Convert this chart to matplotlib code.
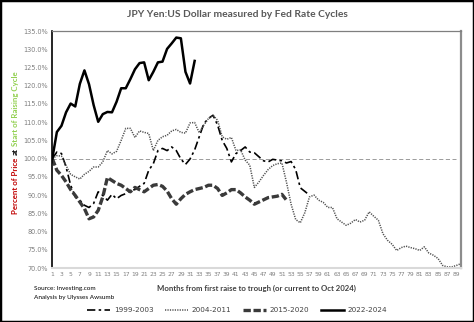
from matplotlib import pyplot as plt
from matplotlib.patches import Rectangle
from matplotlib.ticker import FuncFormatter
import numpy as np

# percent of starting JPY/USD price, one value per month of each cycle
cycle_9903 = [100, 101.8, 101.4, 97.7, 92.7, 89.5, 88.6, 87.2, 86.6, 87.7,
              90.9, 89.9, 88.6, 90.2, 89.0, 89.9, 90.4, 91.3, 91.5, 92.4,
              93.2, 96.8, 98.6, 102.2, 102.8, 102.2, 103.2, 102.2, 99.9, 98.4,
              99.9, 102.4, 106.0, 109.6, 111.0, 111.9, 109.2, 105.0, 102.8, 99.1,
              101.4, 102.2, 103.2, 101.8, 101.6, 100.5, 99.4, 99.1, 99.8, 99.6,
              99.4, 98.8, 99.2, 97.0, 92.0, 91.0, 90.0]
cycle_0411 = [100, 100.8, 100.7, 98.1, 95.7, 95.0, 94.4, 95.7, 96.5, 97.7,
              97.7, 99.1, 102.2, 101.3, 102.0, 105.0, 108.3, 108.3, 105.8, 107.6,
              107.2, 106.9, 102.2, 105.0, 106.0, 106.4, 107.6, 108.0, 107.2, 107.0,
              109.8, 109.9, 107.1, 109.2, 111.0, 111.9, 110.5, 106.0, 105.3, 105.8,
              102.2, 102.4, 99.6, 98.2, 92.1, 93.6, 95.4, 97.0, 98.1, 98.6,
              98.8, 93.5, 87.5, 83.3, 82.4, 85.2, 89.5, 90.0, 88.6, 88.0,
              86.6, 86.6, 83.5, 82.6, 81.7, 82.3, 83.3, 82.6, 83.1, 85.4,
              84.2, 83.1, 79.4, 77.6, 76.5, 74.8, 75.6, 76.0, 75.6, 75.3,
              74.8, 75.8, 74.1, 73.5, 72.6, 70.7, 70.3, 70.3, 70.7, 71.2]
cycle_1520 = [100, 96.8, 95.4, 93.6, 91.5, 89.9, 88.1, 86.3, 83.5, 84.0,
              85.8, 89.5, 94.8, 94.0, 93.2, 92.7, 91.8, 90.9, 92.1, 91.5,
              90.9, 91.8, 92.7, 92.9, 92.4, 91.1, 89.0, 87.5, 89.0, 90.2,
              90.9, 91.5, 91.8, 92.1, 92.7, 92.7, 91.8, 89.9, 90.6, 91.5,
              91.5, 90.6, 89.5, 88.6, 87.5, 88.1, 88.7, 89.3, 89.5, 89.7,
              90.2, 88.6]
cycle_2224 = [100, 107.3, 109.0, 112.7, 115.1, 114.3, 120.5, 124.2, 120.4, 114.7,
              110.1, 112.2, 112.8, 112.7, 115.6, 119.3, 119.3, 121.8, 124.5, 126.2,
              126.4, 121.5, 123.8, 126.4, 126.6, 130.1, 131.6, 133.2, 133.0, 123.8,
              120.6, 126.8]
baseline_months = 89
baseline_value = 100

def months(series):
    return np.arange(1, len(series) + 1)

fig = plt.figure(figsize=(4.74, 3.22), dpi=100)
ax = fig.add_axes([0.1103, 0.1677, 0.8623, 0.736])

ax.plot(np.arange(1, baseline_months + 1), [baseline_value] * baseline_months,
        color='#8c8c8c', lw=0.6, dashes=(5, 3))
ax.plot(months(cycle_9903), cycle_9903, color='black', lw=1.2,
        dashes=(5, 2, 1.5, 2), label='1999-2003')
ax.plot(months(cycle_0411), cycle_0411, color='#505050', lw=1.1,
        dashes=(0.8, 0.8), label='2004-2011')
ax.plot(months(cycle_1520), cycle_1520, color='#3a3a3a', lw=2.4,
        dashes=(2.2, 0.8), label='2015-2020')
ax.plot(months(cycle_2224), cycle_2224, color='black', lw=1.8,
        label='2022-2024')

ax.set_xlim(1, 90)
ax.set_ylim(70, 135)
ax.set_yticks(np.arange(70, 136, 5))
ax.yaxis.set_major_formatter(FuncFormatter(lambda v, p: '{:.1f}%'.format(v)))
ax.set_xticks(np.arange(1, 90, 2))
ax.tick_params(axis='both', length=0, colors='#7f7f7f', labelsize=4.7, pad=3)
ax.tick_params(axis='x', labelsize=4.3)

ax.spines['left'].set_color('black')
ax.spines['left'].set_linewidth(1.2)
ax.spines['bottom'].set_color('#d9d9d9')
ax.spines['bottom'].set_linewidth(1.5)
ax.spines['top'].set_color('#7f7f7f')
ax.spines['top'].set_linewidth(0.9)
ax.spines['right'].set_color('#8c8c8c')
ax.spines['right'].set_linewidth(1.6)

fig.text(0.5, 0.956, 'JPY Yen:US Dollar measured by Fed Rate Cycles',
         ha='center', va='center', fontsize=7.4, fontweight='bold',
         color='#595959', family='Lato')
fig.text(0.542, 0.105, 'Months from first raise to trough (or current to Oct 2024)',
         ha='center', va='center', fontsize=5.6, fontweight='bold',
         color='#404040', family='Lato')
fig.text(0.071, 0.103, 'Source: Investing.com', ha='left', va='center',
         fontsize=4.6, color='black', family='Lato')
fig.text(0.071, 0.077, 'Analysis by Ulysses Awsumb', ha='left', va='center',
         fontsize=4.6, color='black', family='Lato')

# y label in three colours, stacked bottom to top
lab = fig.text(0.032, 0.335, 'Percent of Price', rotation=90, ha='center',
               va='bottom', fontsize=5.7, fontweight='bold', color='#c00000',
               family='Lato')
lab = ax.annotate('at', xy=(0.5, 1), xycoords=lab, xytext=(0, 1.8),
                  textcoords='offset points', rotation=90, ha='center',
                  va='bottom', fontsize=5.7, fontweight='bold', color='black',
                  family='Lato', annotation_clip=False)
ax.annotate('Start of Raising Cycle', xy=(0.5, 1), xycoords=lab, xytext=(0, 1.8),
            textcoords='offset points', rotation=90, ha='center', va='bottom',
            fontsize=5.7, fontweight='bold', color='#92d050', family='Lato',
            annotation_clip=False)

leg = fig.legend(loc='center', bbox_to_anchor=(0.5, 0.037), ncol=4,
                 frameon=False, fontsize=5.2, handlelength=3.2,
                 columnspacing=1.6, handletextpad=0.5)
for t in leg.get_texts():
    t.set_color('#404040')

fig.patches.append(Rectangle((0, 0), 1, 1, transform=fig.transFigure,
                             fill=False, edgecolor='black', lw=2.5))

fig.savefig('out.png', dpi=100)
